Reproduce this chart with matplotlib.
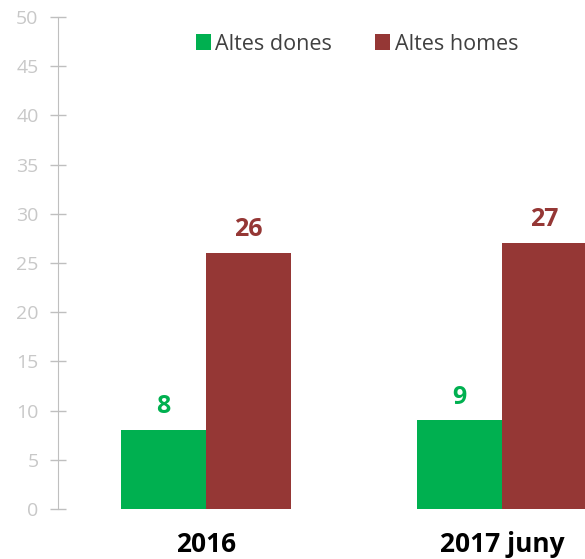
import numpy as np
from matplotlib import pyplot as plt

# dades
categories = ['2016', '2017 juny']
dones = [8, 9]
homes = [26, 27]
series_names = ['Altes dones', 'Altes homes']
colors = ['#00B050', '#953735']

plt.rcParams['font.family'] = ['Open Sans', 'DejaVu Sans']

fig = plt.figure(figsize=(5.85, 5.59), dpi=100)
# l'eix s'estén més enllà de la vora dreta, com a l'original
ax = fig.add_axes([58 / 585, 50 / 559, 592 / 585, 492 / 559])

x = np.arange(len(categories))
w = 0.287
b1 = ax.bar(x - w / 2, dones, width=w, color=colors[0], label=series_names[0])
b2 = ax.bar(x + w / 2, homes, width=w, color=colors[1], label=series_names[1])

# etiquetes de valor
for bars, vals, c in [(b1, dones, colors[0]), (b2, homes, colors[1])]:
    for r, v in zip(bars, vals):
        ax.text(r.get_x() + r.get_width() / 2, v + 1.1, str(v), ha='center', va='bottom',
                fontsize=18, fontweight='bold', color=c)

ax.set_xlim(-0.5, 1.5)
ax.set_ylim(0, 50)
ax.set_yticks(range(0, 51, 5))
ax.set_xticks(x)
ax.set_xticklabels(categories, fontsize=19, fontweight='bold', color='black')
ax.tick_params(axis='x', length=0, pad=16)
ax.tick_params(axis='y', direction='inout', length=12, width=1, color='#bfbfbf',
               labelcolor='#c8c8c8', labelsize=14, pad=8)
for s in ['top', 'right', 'bottom']:
    ax.spines[s].set_visible(False)
ax.spines['left'].set_color('#bfbfbf')

fig.legend(loc='center', bbox_to_anchor=(357 / 585, 1 - 44 / 559), ncol=2, frameon=False,
           fontsize=15.5, handlelength=0.7, handleheight=0.7, handletextpad=0.2,
           columnspacing=2.0, labelcolor='#404040')

plt.savefig('out.png', dpi=100)
